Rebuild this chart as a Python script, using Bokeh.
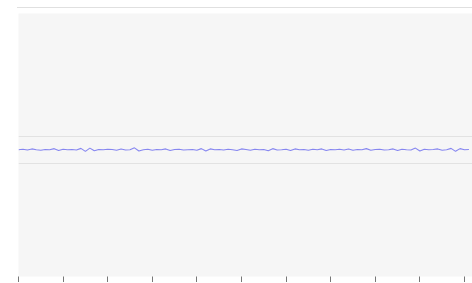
from bokeh.plotting import figure
from bokeh.models import FixedTicker, Range1d
from bokeh.embed import file_html
from bokeh.resources import INLINE

xs = list(range(0, 102))
ys = [0.00, 0.02, -0.01, 0.03, 0.00, -0.02, 0.01, 0.00, 0.04, -0.03,
      0.02, 0.00, 0.01, -0.01, 0.05, -0.06, 0.06, -0.04, 0.01, 0.00,
      0.02, 0.01, -0.02, 0.03, -0.01, 0.00, 0.07, -0.05, 0.00, 0.02,
      -0.02, 0.01, 0.00, 0.03, -0.03, 0.01, 0.02, -0.01, 0.00, 0.01,
      -0.02, 0.04, -0.05, 0.03, 0.00, 0.01, -0.01, 0.02, 0.00, -0.03,
      0.03, 0.01, -0.02, 0.02, 0.00, 0.01, -0.04, 0.04, -0.01, 0.00,
      0.02, -0.03, 0.03, 0.00, 0.01, -0.02, 0.02, 0.00, 0.03, -0.03,
      0.01, 0.00, 0.02, -0.01, 0.03, -0.02, 0.01, 0.00, 0.04, -0.02,
      0.01, 0.02, -0.01, 0.00, 0.03, -0.03, 0.02, 0.00, -0.01, 0.06,
      -0.05, 0.02, 0.00, 0.01, 0.03, -0.02, 0.00, 0.05, -0.06, 0.04,
      0.00, 0.01]
x_ticks = [0, 10, 20, 30, 40, 50, 60, 70, 80, 90, 100]
y_grid = [-0.5, 0.5]

p = figure(frame_width=454, frame_height=263, output_backend="svg",
           toolbar_location=None, x_range=Range1d(0, 101.8),
           y_range=Range1d(-4.7, 5.05), min_border_left=1,
           min_border_top=5, min_border_right=0, min_border_bottom=0,
           styles={"border-top": "1px solid #e0e0e0", "margin-left": "17px",
                   "margin-top": "7px"})
p.background_fill_color = "#f6f6f6"
p.border_fill_color = "white"
p.outline_line_color = None

p.line(xs, ys, line_color="#8686f0", line_width=1.1)

p.yaxis.visible = False
p.xaxis.ticker = FixedTicker(ticks=x_ticks)
p.xaxis.major_label_overrides = {t: "" for t in x_ticks}
p.xaxis.axis_line_color = None
p.xaxis.major_tick_line_color = "#777777"
p.xaxis.major_tick_in = 0
p.xaxis.major_tick_out = 6
p.xaxis.minor_tick_line_color = None
p.xaxis.major_label_standoff = 0
p.xgrid.grid_line_color = None
p.ygrid.ticker = FixedTicker(ticks=y_grid)
p.ygrid.grid_line_color = "#e2e2e2"

open("out.html", "w").write(file_html(p, INLINE))
